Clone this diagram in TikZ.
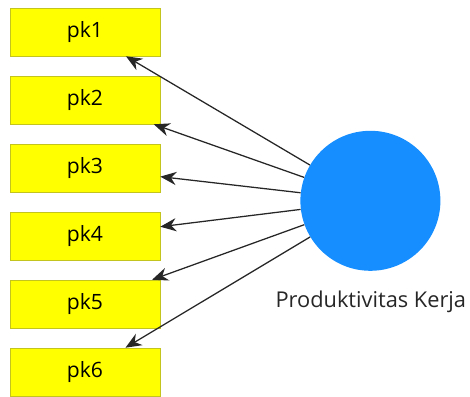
\documentclass[tikz,border=0pt]{standalone}
\usepackage{fontspec}
\setmainfont{Open Sans}
\usetikzlibrary{arrows.meta}
\definecolor{kuning}{RGB}{255,255,0}
\definecolor{bingkai}{RGB}{196,196,30}
\definecolor{biru}{RGB}{22,142,255}
\begin{document}
\begin{tikzpicture}[>={Stealth[length=4mm,width=3.3mm]},x=1cm,y=1cm]
 \tikzset{indikator/.style={draw=bingkai,fill=kuning,minimum width=3.75cm,minimum height=1.2cm,inner sep=0pt,font=\fontsize{15}{18}\selectfont}}
 \useasboundingbox (0,0) rectangle (11.75,9.9);
 % indikator pk1..pk6
 \foreach \i in {1,...,6}
   \node[indikator] (pk\i) at (2.125,{9.1-1.7*(\i-1)}) {pk\i};
 % variabel laten
 \node[circle,fill=biru,minimum size=3.5cm,inner sep=0pt] (prod) at (9.26,4.88) {};
 \node[font=\fontsize{15.5}{18}\selectfont,text=black!85] (lbl) at (9.27,2.35) {Produktivitas Kerja};
 \foreach \i in {1,...,6}
   \draw[->,line width=0.9pt,black!85] (prod) -- (pk\i);
\end{tikzpicture}
\end{document}
